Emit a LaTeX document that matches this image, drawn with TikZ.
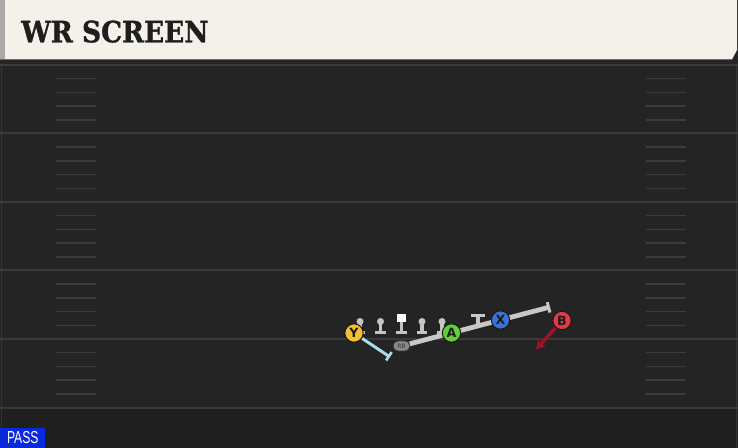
\documentclass[tikz,border=0pt]{standalone}
\usepackage{fontspec}
\setmainfont{DejaVu Sans}
\newfontfamily\titlefont{DejaVu Serif}[UprightFont={* Bold}, FakeBold=1.2]
\newfontfamily\passfont{Liberation Sans}
\usetikzlibrary{arrows.meta,shapes.misc}

\pgfdeclarelayer{field}
\pgfdeclarelayer{routes}
\pgfsetlayers{field,routes,main}

\definecolor{turf}{RGB}{36,36,36}
\definecolor{turfdark}{RGB}{31,31,31}
\definecolor{yardline}{RGB}{58,58,58}
\definecolor{hashline}{RGB}{60,60,60}
\definecolor{headerbg}{RGB}{244,241,234}
\definecolor{headerstripe}{RGB}{170,170,168}
\definecolor{titleink}{RGB}{30,30,30}
\definecolor{passblue}{RGB}{10,40,220}
\definecolor{ycol}{RGB}{242,192,48}
\definecolor{acol}{RGB}{98,206,60}
\definecolor{xcol}{RGB}{60,114,214}
\definecolor{bcol}{RGB}{224,58,70}
\definecolor{yroute}{RGB}{168,220,232}
\definecolor{rbroute}{RGB}{200,200,200}
\definecolor{broute}{RGB}{160,16,42}
\definecolor{olgray}{RGB}{196,196,196}
\definecolor{rbgray}{RGB}{138,138,138}

\tikzset{every picture/.style={line width=0.75pt}}
\tikzset{
  player/.style={circle, draw={rgb,255:red,24;green,24;blue,24}, line width=0.75pt,
    minimum size=13.8pt, inner sep=0pt, text={rgb,255:red,28;green,28;blue,28},
    font=\bfseries\fontsize{9.5}{9.5}\selectfont},
  rbback/.style={rounded rectangle, fill=rbgray, draw={rgb,255:red,60;green,60;blue,60},
    line width=0.5pt, minimum width=13.5pt, minimum height=7.5pt, inner sep=0.5pt,
    text={rgb,255:red,50;green,50;blue,50}, font=\fontsize{4.5}{4.5}\selectfont},
  route/.style={line width=2.2pt},
  passtag/.style={fill=passblue, text=white, anchor=south west, inner sep=0pt,
    minimum width=33.75pt, minimum height=15pt, font=\passfont\fontsize{13}{13}\selectfont}
}

\begin{document}
\begin{tikzpicture}[x=0.75pt,y=0.75pt,yscale=-1,xscale=1]
\useasboundingbox (0,0) rectangle (738,448);

\begin{pgfonlayer}{field}
%Turf
\fill[turf] (0,0) rectangle (738,448);
\fill[turfdark] (0,408) rectangle (738,448);
\draw[yardline!70!turf, line width=1pt] (1.5,60) -- (1.5,448);
\draw[yardline!70!turf, line width=1pt] (736.5,60) -- (736.5,448);
%Yard lines and hash marks
\foreach \ly in {65,133.5,202,270.5,339,407.5}
  \draw[yardline, line width=1.5pt] (0,\ly) -- (738,\ly);
\foreach \ly in {65,133.5,202,270.5,339}
  \foreach \k in {1,...,4} {
    \draw[hashline, line width=1.1pt] (56,\ly+13.7*\k) -- (96,\ly+13.7*\k);
    \draw[hashline, line width=1.1pt] (646,\ly+13.7*\k) -- (686,\ly+13.7*\k);
  }
%Header
\fill[black!85] (0,59) rectangle (738,63);
\fill[headerbg] (0,0) -- (737,0) -- (737,50) -- (732,59.5) -- (0,59.5) -- cycle;
\fill[headerstripe] (0,0) rectangle (5,59.5);
\end{pgfonlayer}

% Title
\node[anchor=base west, inner sep=0pt, text=titleink, font=\titlefont\fontsize{22}{22}\selectfont] (title) at (21,42.3) {\scalebox{0.9}[1]{WR SCREEN}};

%Offensive line
\foreach \lx in {360,380.5,422,442} {
  \fill[olgray] (\lx,321.5) circle (3.5);
  \fill[olgray] (\lx-1.8,322) rectangle (\lx+1.8,331.5);
  \fill[olgray] (\lx-5.2,331) rectangle (\lx+5.2,334.5);
}
\fill[white] (397,314.5) rectangle (406,322.5);
\fill[olgray] (399.7,322.5) rectangle (403.3,331.5);
\fill[olgray] (396.3,331) rectangle (406.7,334.5);

%Players
\node[rbback] (RB) at (401.5,346) {RB};
\node[player, fill=ycol] (Y) at (354,333) {Y};
\node[player, fill=acol] (A) at (451.5,333) {A};
\node[player, fill=xcol] (X) at (500.5,320) {X};
\node[player, fill=bcol] (B) at (562,320.5) {B};

%Route ends
\coordinate (yend) at (390,357);
\coordinate (rbend) at (550,307);
\coordinate (blkbase) at (478,326);
\coordinate (blktop) at (478,314);
\coordinate (bend) at (536,349.5);

\begin{pgfonlayer}{routes}
\draw[route, yroute, -{Bar[width=7.5pt,line width=2pt]}] (Y) -- (yend);
\draw[route, rbroute, line width=3.6pt, -{Bar[width=8pt,line width=2.2pt]}] (RB) -- (rbend);
\draw[route, rbroute, line width=2.6pt, -{Bar[width=10pt,line width=2.6pt]}] (blkbase) -- (blktop);
\draw[route, broute, line width=2.6pt, -{Stealth[length=7pt,width=8pt]}] (B) -- (bend);
\end{pgfonlayer}

% Play type tag
\node[passtag] (pass) at (0,448) {\scalebox{0.7}[1]{PASS}};

\end{tikzpicture}
\end{document}
